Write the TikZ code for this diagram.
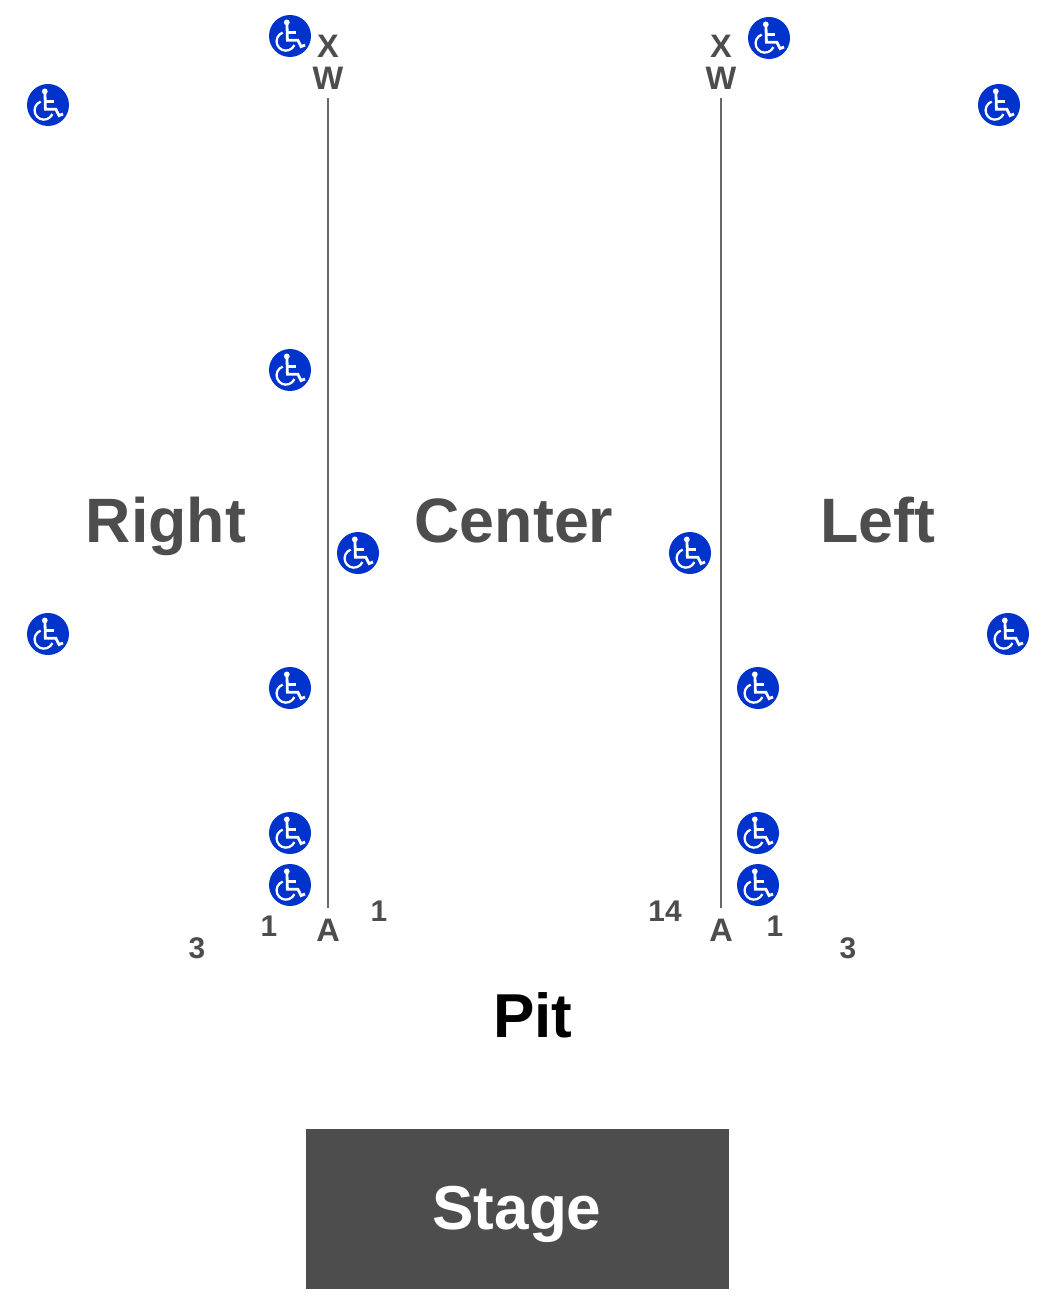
\documentclass[tikz,border=0pt]{standalone}
\usepackage{fontspec}
\setmainfont{Liberation Sans}
\definecolor{seatgray}{HTML}{4D4D4D}
\definecolor{accessblue}{HTML}{0033CC}
\tikzset{
	section/.style = {anchor = base, font = \fontsize{35.7}{36}\bfseries\selectfont, text = seatgray, inner sep = 0},
	rowlabel/.style = {font = \fontsize{18.5}{18.5}\bfseries\selectfont, text = seatgray, inner sep = 0},
	seatlabel/.style = {font = \fontsize{17}{17}\bfseries\selectfont, text = seatgray, inner sep = 0},
	aisle/.style = {seatgray!85, line width = 1.2pt, shorten <= 5pt, shorten >= 5.7pt},
	wchair/.pic = {
		\fill [accessblue] (0,0) circle (21);
		\fill [white] (-3.2,-13.6) circle (2.9);
		\draw [white, line width = 1.6pt] (-3,-11) -- (-2.6,4.2) -- (7.8,4.2) -- (11,10.6) -- (15,9);
		\draw [white, line width = 1.2pt] (-2.6,-3.5) -- (5.5,-3.5);
		\draw [white, line width = 1.3pt] (-7.3,-3.4) arc (-110:-336:9.3);
	}
}
\begin{document}
\begin{tikzpicture}[x = 0.02cm, y = -0.02cm]
	\useasboundingbox (0,0) rectangle (1050,1300);
	% stage and section names
	\node [fill = seatgray, minimum width = 8.46cm, minimum height = 3.2cm] (stage) at (517.5,1209) {};
	\node [section, text = white, font = \fontsize{35.3}{36}\bfseries\selectfont] (stagename) at (517,1229) {Stage};
	\node [section, text = black, font = \fontsize{35.3}{36}\bfseries\selectfont] (pit) at (533,1037) {Pit};
	\node [section] (right) at (166,542) {Right};
	\node [section] (center) at (514,542) {Center};
	\node [section] (left) at (878,542) {Left};
	% row letters and aisles
	\node [rowlabel] (xr) at (328,46) {X};
	\node [rowlabel] (wr) at (328,78) {W};
	\node [rowlabel] (ar) at (328,930) {A};
	\node [rowlabel] (xl) at (721,46) {X};
	\node [rowlabel] (wl) at (721,78) {W};
	\node [rowlabel] (al) at (721,930) {A};
	\draw [aisle] (wr) -- (ar);
	\draw [aisle] (wl) -- (al);
	% seat numbers
	\node [seatlabel] (s1) at (197,948.5) {3};
	\node [seatlabel] (s2) at (269,926) {1};
	\node [seatlabel] (s3) at (379,911) {1};
	\node [seatlabel] (s4) at (665,911) {14};
	\node [seatlabel] (s5) at (775,926) {1};
	\node [seatlabel] (s6) at (848,948.5) {3};
	% wheelchair spaces
	\foreach \px/\py in {290/36, 769/38, 48/105, 999/105, 290/370, 358/553, 690/553, 48/634, 1008/634, 290/688, 758/688, 290/833, 758/833, 290/885, 758/885}
		\pic at (\px,\py) {wchair};
\end{tikzpicture}
\end{document}
